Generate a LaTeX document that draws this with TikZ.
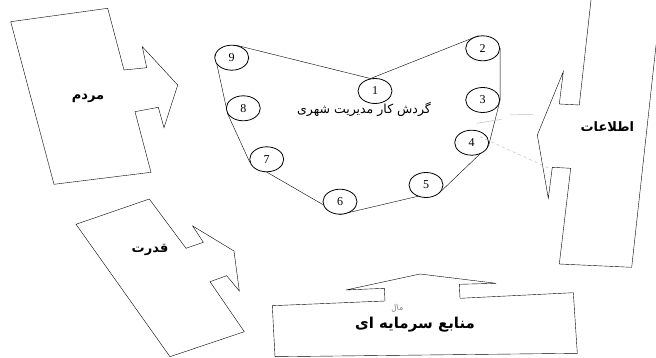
\documentclass[tikz,border=0pt]{standalone}
\usepackage{fontspec}
\setmainfont{Liberation Serif}
\newfontfamily\farsi[Script=Arabic]{DejaVu Sans}
\TeXXeTstate=1
\usetikzlibrary{shapes.geometric,backgrounds}

\begin{document}
\begin{tikzpicture}[x=1pt, y=-1pt, line width=0.8pt,
    num/.style={draw, ellipse, fill=white, minimum width=34pt, minimum height=25pt, inner sep=0pt, font=\fontsize{12}{14}\selectfont},
    lbl/.style={font=\farsi\bfseries\fontsize{13}{15}\selectfont},
    stray/.style={gray!50, line width=0.5pt}]

        \useasboundingbox (0,0) rectangle (656,358);

        % ==================== 中间的循环 ====================
        \node[num] (c1) at (375,91) {1};
        \node[num] (c2) at (482.7,48.3) {2};
        \node[num] (c3) at (482.7,100) {3};
        \node[num] (c4) at (471.7,142.7) {4};
        \node[num] (c5) at (426,185) {5};
        \node[num] (c6) at (340,201.7) {6};
        \node[num] (c7) at (266.7,159.3) {7};
        \node[num] (c8) at (243.3,108.3) {8};
        \node[num] (c9) at (231.7,57.7) {9};

        \begin{pgfonlayer}{background}
            \draw (c9.70) -- (c1.110) -- (c2.110) -- (c2.east) -- (c3.east) -- (c4.-10)
                  -- (c5.-20) -- (c6.-90) -- (c6.190) -- (c7.190) -- (c8.200) -- (c9.170) -- cycle;
        \end{pgfonlayer}

        \node[font=\farsi\fontsize{12.5}{14}\selectfont] (cycle) at (364,109) {\beginR گردش کار مدیریت شهری\endR};

        % ==================== 左上：مردم ====================
        \draw (10.7,21.7) -- (107.7,8.3) -- (124,70) -- (146.7,67.7) -- (142.3,46.7) -- (177.7,85)
              -- (164,127.7) -- (158.3,107.3) -- (135,111.7) -- (151,172.3) -- (54,184.3) -- cycle;
        \node[lbl] (people) at (88,98) {\beginR مردم\endR};

        % ==================== 右侧：اطلاعات ====================
        \draw (591,0) -- (579.3,105) -- (559.3,104) -- (563.3,71.7) -- (537.3,135) -- (548.3,198.3)
              -- (552.3,167.3) -- (570.7,168.3) -- (559.3,264) -- (631.7,267.3) -- (661,0);
        \node[lbl] (info) at (607.3,126.7) {\beginR اطلاعات\endR};

        % ==================== 左下：قدرت ====================
        \draw (76,224.3) -- (149.3,199) -- (186,248.3) -- (203.3,242.3) -- (192.7,226) -- (234,251)
              -- (239.3,291) -- (226.7,275.7) -- (210,281.7) -- (244.3,331.7) -- (170,356.7) -- cycle;
        \node[lbl] (power) at (150,250) {\beginR قدرت\endR};

        % ==================== 下方：منابع سرمایه ای ====================
        \draw (275,356.7) -- (272.3,305.7) -- (385,301) -- (384.3,288.3) -- (346,290) -- (420,274)
              -- (496,283.3) -- (459.3,284.3) -- (460,298.3) -- (573.3,292.7) -- (577.3,353.3) -- cycle;
        \node[lbl, font=\farsi\bfseries\fontsize{15}{17}\selectfont] (capital) at (415,325) {\beginR منابع سرمایه ای\endR};
        \node[gray, font=\farsi\fontsize{8}{9}\selectfont, rotate=10] (money) at (397,308) {\beginR مال\endR};

        % 扫描残留线
        \draw[stray] (476.7,123.3) -- (501.7,119.3);
        \draw[stray] (510,115) -- (533.3,114.3);
        \draw[stray, dashed] (480,136.7) -- (553,170);

    \end{tikzpicture}
\end{document}
